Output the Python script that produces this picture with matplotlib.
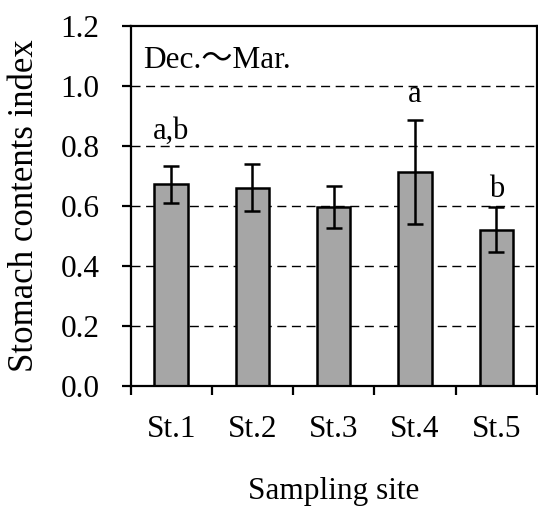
import numpy as np
import matplotlib
matplotlib.use("Agg")
import matplotlib.pyplot as plt
from matplotlib.ticker import FixedLocator

# data
sites = ['St.1', 'St.2', 'St.3', 'St.4', 'St.5']
means = [0.672, 0.661, 0.596, 0.713, 0.521]
errs = [0.062, 0.079, 0.070, 0.173, 0.075]
letters = ['a,b', '', '', 'a', 'b']
letter_y = [0.80, 0.0, 0.0, 0.922, 0.608]
yticks = [0.0, 0.2, 0.4, 0.6, 0.8, 1.0, 1.2]

plt.rcParams['font.family'] = ['Liberation Serif', 'Noto Sans CJK JP', 'DejaVu Sans']

fig = plt.figure(figsize=(5.38, 5.07), dpi=100)
ax = fig.add_axes([130.5 / 538, (507 - 385.8) / 507, 406.5 / 538, 359.8 / 507])

x = np.arange(len(sites))

# gridlines behind the bars
for yv in yticks[1:-1]:
    ax.axhline(yv, color='black', lw=1.0, dashes=(6.5, 4), zorder=0)

ax.bar(x, means, width=0.41, color='#a6a6a6', edgecolor='black', linewidth=1.8, zorder=2)
ax.errorbar(x, means, yerr=errs, fmt='none', ecolor='black', elinewidth=1.8,
            capsize=6, capthick=1.8, zorder=3)

for xi, lab, yl in zip(x, letters, letter_y):
    if lab:
        ax.text(xi, yl, lab, ha='center', va='bottom', fontsize=22)

ax.text(0.03, 0.945, 'Dec.～Mar.', transform=ax.transAxes, ha='left', va='top', fontsize=22.5)

ax.set_xlim(-0.5, len(sites) - 0.5)
ax.set_ylim(0, 1.2)
ax.set_yticks(yticks)
ax.set_yticklabels(['%.1f' % v for v in yticks], fontsize=22.5)
ax.set_xticks(x)
ax.set_xticklabels(sites, fontsize=22.5)
ax.xaxis.set_minor_locator(FixedLocator(np.arange(-0.5, len(sites), 1.0)))

ax.tick_params(axis='x', which='major', length=0, pad=21)
ax.tick_params(axis='x', which='minor', direction='out', length=6.5, width=1.6)
ax.tick_params(axis='y', direction='out', length=6.5, width=1.6, pad=16)

for s in ax.spines.values():
    s.set_linewidth(1.6)

ax.set_ylabel('Stomach contents index', fontsize=25, va='center', ha='center')
ax.yaxis.set_label_coords(-0.26, 0.5)
ax.set_xlabel('Sampling site', fontsize=22.5, va='center', ha='center')
ax.xaxis.set_label_coords(0.5, -0.295)

fig.savefig('out.png', dpi=100)
